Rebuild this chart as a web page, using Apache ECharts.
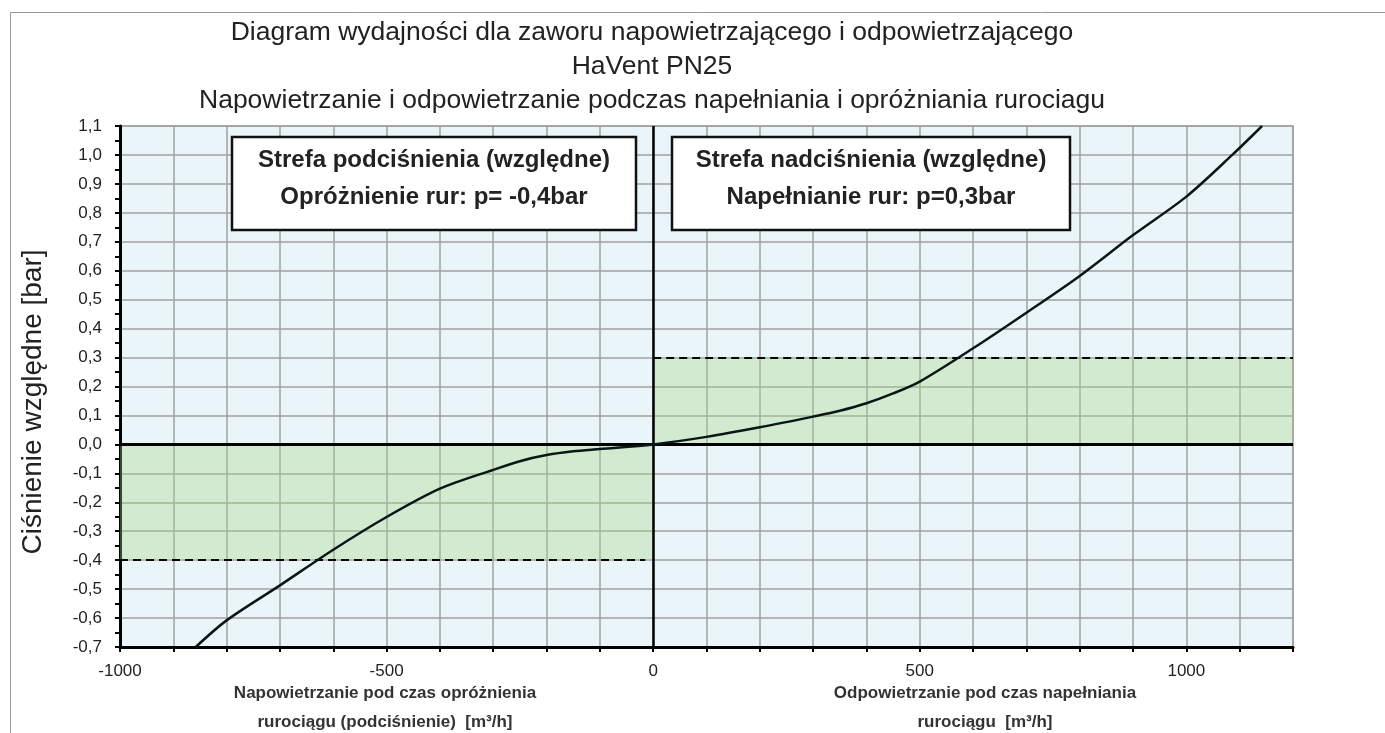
<!DOCTYPE html>
<html>
<head>
<meta charset="utf-8">
<script src="https://cdn.jsdelivr.net/npm/echarts@6/dist/echarts.min.js"></script>
<style>
  html, body { margin: 0; padding: 0; background: #fff; }
  #chart { width: 1385px; height: 733px; }
</style>
</head>
<body>
<div id="chart"></div>
<script>
// krzywa wydajności
var flowQ = [-858, -800, -700, -600, -500, -400, -300, -250, -200, -150, -100, 0, 100, 200, 300, 350, 400, 450, 500, 600, 700, 800, 900, 1000, 1086, 1142]
var pressureP = [-0.7, -0.608, -0.487, -0.364, -0.251, -0.153, -0.088, -0.058, -0.037, -0.024, -0.016, 0, 0.026, 0.059, 0.096, 0.116, 0.142, 0.176, 0.217, 0.332, 0.455, 0.582, 0.723, 0.856, 1.0, 1.1]

// strefy (zielone pola)
var vacuumZoneX = [-1000, 0]
var vacuumZoneY = [-0.4, 0]
var overZoneX = [0, 1200]
var overZoneY = [0, 0.3]

// linie przerywane
var vacuumLimit = { from: -1000, to: -15, p: -0.4 }
var overLimit = { from: 0, to: 1200, p: 0.3 }

var xRange = [-1000, 1200]
var yRange = [-0.7, 1.1]

var titleLines = [
  'Diagram wydajności dla zaworu napowietrzającego i odpowietrzającego',
  'HaVent PN25',
  'Napowietrzanie i odpowietrzanie podczas napełniania i opróżniania rurociagu'
]
var yName = 'Ciśnienie względne [bar]'
var boxLeft = ['Strefa podciśnienia (względne)', 'Opróżnienie rur: p= -0,4bar']
var boxRight = ['Strefa nadciśnienia (względne)', 'Napełnianie rur: p=0,3bar']
var captionLeft = ['Napowietrzanie pod czas opróżnienia', 'rurociągu (podciśnienie)  [m³/h]']
var captionRight = ['Odpowietrzanie pod czas napełniania', 'rurociągu  [m³/h]']

var font = '"Liberation Sans", Arial, Helvetica, sans-serif'

var chart = echarts.init(document.getElementById('chart'))

function box(x, y, w, h, lines) {
  return [
    { type: 'rect', z: 100, shape: { x: x, y: y, width: w, height: h },
      style: { fill: '#fff', stroke: '#111', lineWidth: 2.5 } },
    { type: 'text', z: 101, x: x + w / 2, y: y + 23,
      style: { text: lines[0], font: 'bold 24px ' + font, fill: '#222', align: 'center', verticalAlign: 'middle' } },
    { type: 'text', z: 101, x: x + w / 2, y: y + 60,
      style: { text: lines[1], font: 'bold 24px ' + font, fill: '#222', align: 'center', verticalAlign: 'middle' } }
  ]
}

function caption(cx, lines) {
  return [
    { type: 'text', x: cx, y: 693, z: 100,
      style: { text: lines[0], font: 'bold 17px ' + font, fill: '#333', align: 'center', verticalAlign: 'middle' } },
    { type: 'text', x: cx, y: 722, z: 100,
      style: { text: lines[1], font: 'bold 17px ' + font, fill: '#333', align: 'center', verticalAlign: 'middle' } }
  ]
}

chart.setOption({
  backgroundColor: '#fff',
  animation: false,
  title: {
    text: titleLines.join('\n'),
    left: 647,
    top: 11,
    textAlign: 'center',
    textStyle: { fontFamily: font, fontSize: 26.5, fontWeight: 'normal', color: '#222', lineHeight: 34 }
  },
  grid: {
    left: 120, right: 92, top: 126, bottom: 86,
    show: true,
    backgroundColor: '#eaf5fa',
    borderColor: '#a0a0a0',
    borderWidth: 1.5
  },
  xAxis: {
    type: 'value',
    min: xRange[0], max: xRange[1], interval: 100,
    axisLine: { onZero: false, lineStyle: { color: '#000', width: 3 } },
    axisTick: { show: true, length: 5, lineStyle: { color: '#000', width: 2 } },
    axisLabel: {
      margin: 16,
      fontFamily: font, fontSize: 17, color: '#222',
      formatter: function (v) { return v % 500 === 0 ? String(v) : '' }
    },
    splitLine: { show: true, lineStyle: { color: '#a0a0a0', width: 1.5 } }
  },
  yAxis: {
    type: 'value',
    min: yRange[0], max: yRange[1], interval: 0.1,
    axisLine: { onZero: false, lineStyle: { color: '#000', width: 3 } },
    axisTick: { show: true, length: 5, lineStyle: { color: '#000', width: 2 } },
    minorTick: { show: true, splitNumber: 2, length: 5, lineStyle: { color: '#000', width: 2 } },
    axisLabel: {
      margin: 18,
      fontFamily: font, fontSize: 17, color: '#222',
      formatter: function (v) { return v.toFixed(1).replace('.', ',') }
    },
    splitLine: { show: true, lineStyle: { color: '#a0a0a0', width: 1.5 } }
  },
  series: [
    {
      name: 'strefy',
      type: 'line',
      data: [],
      silent: true,
      markArea: {
        silent: true,
        itemStyle: { color: 'rgba(165,218,125,0.34)' },
        data: [
          [{ coord: [vacuumZoneX[0], vacuumZoneY[0]] }, { coord: [vacuumZoneX[1], vacuumZoneY[1]] }],
          [{ coord: [overZoneX[0], overZoneY[0]] }, { coord: [overZoneX[1], overZoneY[1]] }]
        ]
      },
      markLine: {
        silent: true,
        symbol: 'none',
        label: { show: false },
        data: [
          // osie 0
          { xAxis: 0, lineStyle: { color: '#000', width: 2.5, type: 'solid' } },
          { yAxis: 0, lineStyle: { color: '#000', width: 3, type: 'solid' } },
          // granice ciśnień
          [{ coord: [vacuumLimit.from, vacuumLimit.p], lineStyle: { color: '#000', width: 2.2, type: [8, 5] } },
           { coord: [vacuumLimit.to, vacuumLimit.p] }],
          [{ coord: [overLimit.from, overLimit.p], lineStyle: { color: '#000', width: 2.2, type: [8, 5] } },
           { coord: [overLimit.to, overLimit.p] }]
        ]
      }
    },
    {
      name: 'HaVent PN25',
      type: 'line',
      data: flowQ.map(function (q, i) { return [q, pressureP[i]] }),
      smooth: 0.3,
      showSymbol: false,
      z: 5,
      lineStyle: { color: '#0b1616', width: 2.5 }
    }
  ],
  graphic: [
    // ramka
    { type: 'polyline', z: 100, shape: { points: [[10.5, 733], [10.5, 12.5], [1385, 12.5]] },
      style: { stroke: '#999', lineWidth: 1, fill: null } },
    // opis osi Y
    { type: 'text', z: 100, x: 33, y: 402, rotation: Math.PI / 2,
      style: { text: yName, font: '28px ' + font, fill: '#222', align: 'center', verticalAlign: 'middle' } }
  ].concat(box(232, 137, 404, 93, boxLeft))
   .concat(box(672, 137, 398, 93, boxRight))
   .concat(caption(385, captionLeft))
   .concat(caption(985, captionRight))
})

window.addEventListener('resize', function () { chart.resize() })
</script>
</body>
</html>
